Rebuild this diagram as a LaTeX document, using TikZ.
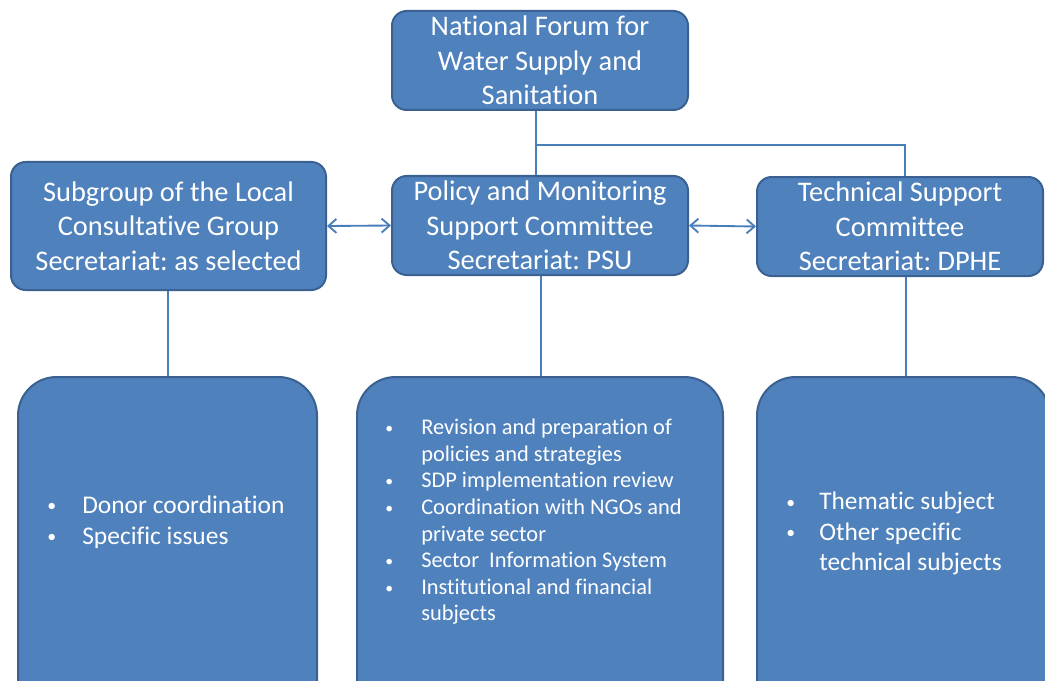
\documentclass[tikz,border=0pt]{standalone}
\usepackage{fontspec}
\usepackage{graphicx}
\setmainfont{Carlito}[Ligatures={NoCommon}]
\usetikzlibrary{arrows.meta}
\definecolor{boxfill}{HTML}{4F81BD}
\definecolor{boxline}{HTML}{3A6191}
\definecolor{connline}{HTML}{4A7EBB}
\newcommand{\smbul}{\raisebox{0.12ex}{\scalebox{0.7}{\textbullet}}}
\begin{document}
\frenchspacing
\begin{tikzpicture}[x=0.75pt,y=-0.75pt,
  headbox/.style={draw=boxline, fill=boxfill, line width=1.5pt, rounded corners=11pt,
    text=white, align=center, inner sep=0pt, minimum height=99*0.75pt,
    font=\fontsize{21.3}{25.9}\selectfont},
  listbox/.style={draw=boxline, fill=boxfill, line width=1.5pt, rounded corners=29pt,
    minimum height=343*0.75pt, inner sep=0pt},
  listtext/.style={text=white, inner sep=0pt, anchor=west},
  conn/.style={draw=connline, line width=1.4pt},
  biarrow/.style={conn, {Straight Barb[length=6pt,width=10.5pt,line width=1.4pt]}-{Straight Barb[length=6pt,width=10.5pt,line width=1.4pt]}}
]
\useasboundingbox (0,0) rectangle (1045,681);

% header boxes
\node[headbox, minimum width=296*0.75pt] (top) at (540,60.5)
  {National Forum for\\Water Supply and\\Sanitation};
\node[headbox, minimum width=315*0.75pt, minimum height=128*0.75pt] (lt) at (168.5,226)
  {Subgroup of the Local\\Consultative Group\\Secretariat: as selected};
\node[headbox, minimum width=296*0.75pt] (md) at (540,225.5)
  {Policy and Monitoring\\Support Committee\\Secretariat: PSU};
\node[headbox, minimum width=286*0.75pt] (rt) at (900,226.5)
  {Technical Support\\Committee\\Secretariat: DPHE};

% list boxes
\node[listbox, minimum width=299*0.75pt] (lb) at (167.5,548.5) {};
\node[listbox, minimum width=366*0.75pt] (mb) at (540,548.5) {};
\node[listbox, minimum width=293*0.75pt] (rb) at (903.5,548.5) {};

\node[listtext] (lbt) at (47,522.5) {\fontsize{19.1}{23.2}\selectfont
  \begin{tabular}{@{}p{26.25pt}@{}l@{}}
  \smbul & Donor coordination\\
  \smbul & Specific issues
  \end{tabular}};
\node[listtext] (mbt) at (385,522.5) {\fontsize{16.8}{19.95}\selectfont
  \begin{tabular}{@{}p{27pt}@{}l@{}}
  \smbul & Revision and preparation of\\
   & policies and strategies\\
  \smbul & SDP implementation review\\
  \smbul & Coordination with NGOs and\\
   & private sector\\
  \smbul & Sector \ Information System\\
  \smbul & Institutional and financial\\
   & subjects
  \end{tabular}};
\node[listtext] (rbt) at (786,534) {\fontsize{19}{22.9}\selectfont
  \begin{tabular}{@{}p{24.75pt}@{}l@{}}
  \smbul & Thematic subject\\
  \smbul & Other specific\\
   & technical subjects
  \end{tabular}};

% connectors
\coordinate (j) at (536,145);
\coordinate (k) at (905,145);
\draw[conn] (top.south -| j) -- (md.north -| j);
\draw[conn] (j) -- (k) -- (k |- rt.north);
\draw[biarrow] (lt.east) -- (md.west);
\draw[biarrow] (md.east) -- (rt.west);
\coordinate (l) at (168,300);
\draw[conn] (lt.south -| l) -- (lb.north -| l);
\coordinate (m) at (541,300);
\draw[conn] (md.south -| m) -- (mb.north -| m);
\coordinate (r) at (906,300);
\draw[conn] (rt.south -| r) -- (rb.north -| r);
\end{tikzpicture}
\end{document}
